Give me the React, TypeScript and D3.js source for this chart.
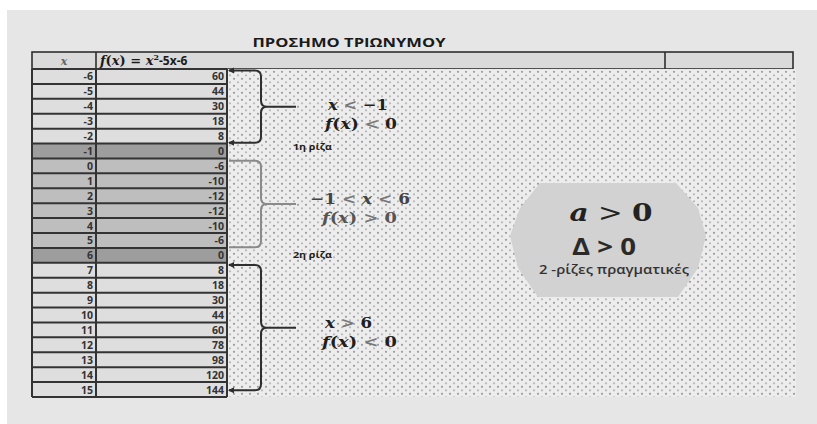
import React from 'react';
import * as d3 from 'd3';

// table data
const xVals = [-6, -5, -4, -3, -2, -1, 0, 1, 2, 3, 4, 5, 6, 7, 8, 9, 10, 11, 12, 13, 14, 15];
const fVals = [60, 44, 30, 18, 8, 0, -6, -10, -12, -12, -10, -6, 0, 8, 18, 30, 44, 60, 78, 98, 120, 144];
const roots = [-1, 6];
const title = 'ΠΡΟΣΗΜΟ ΤΡΙΩΝΥΜΟΥ';
const rootLabels = ['1η ρίζα', '2η ρίζα'];
const summary = ['a > 0', 'Δ > 0', '2 -ρίζες πραγματικές'];

const W = 817;
const H = 424;
const colX = [32, 96, 227];
const tableTop = 69;
const tableBottom = 397;
const dotsRight = 796;

const yScale = d3.scaleBand<number>().domain(xVals).range([tableTop, tableBottom]);
const bw = yScale.bandwidth();

const rowFill = (x: number) => {
  if (roots.includes(x)) return '#9d9d9d';
  if (x > roots[0] && x < roots[1]) return '#bebebe';
  return '#dedede';
};

// brace: from row a to row b
const braces = [
  { from: -6, to: -2, top: 0.1, bot: 0.95, color: '#2e2e2e', arrows: true },
  { from: 0, to: 5, top: 0.15, bot: 0.95, color: '#8a8a8a', arrows: false },
  { from: 7, to: 15, top: 0.15, bot: 0.55, color: '#2e2e2e', arrows: true },
];

const bracePath = (top: number, bot: number) => {
  const x0 = 229, xv = 261, tip = 296, r = 6;
  const mid = (top + bot) / 2;
  const p = d3.path();
  p.moveTo(x0, top);
  p.lineTo(xv - r, top);
  p.quadraticCurveTo(xv, top, xv, top + r);
  p.lineTo(xv, mid - r);
  p.quadraticCurveTo(xv, mid, xv + r, mid);
  p.lineTo(tip, mid);
  p.moveTo(xv + r, mid);
  p.quadraticCurveTo(xv, mid, xv, mid + r);
  p.lineTo(xv, bot - r);
  p.quadraticCurveTo(xv, bot, xv - r, bot);
  p.lineTo(x0, bot);
  return p.toString();
};

const serif = '"DejaVu Serif", serif';
const sans = '"Open Sans", "Noto Sans", sans-serif';

// "x < -1" style condition text
const Cond = ({ x, y, w, parts, color }: { x: number; y: number; w: number; parts: [string, boolean][]; color: string }) => (
  <text x={x} y={y} fontFamily={serif} fontSize={15} fontWeight="bold" fill={color} textLength={w} lengthAdjust="spacingAndGlyphs">
    {parts.map(([s, it], i) => (
      <tspan key={i} fontStyle={it ? 'italic' : 'normal'} fill={s.trim() === '<' || s.trim() === '>' ? '#777' : color}>
        {s}
      </tspan>
    ))}
  </text>
);

const shape = [
  [-98, -4], [-88, -32], [-68, -57], [68, -57], [90, -32], [98, -4], [90, 28], [70, 57], [-70, 57], [-90, 28],
];

export default function App() {
  const cx = 608, cy = 240;
  return (
    <svg width={W} height={H} style={{ position: 'absolute', left: 0, top: 0 }}>
      <defs>
        <pattern id="dots" width={8} height={7} patternUnits="userSpaceOnUse">
          <rect width={8} height={7} fill="#ededed" />
          <circle cx={2} cy={1.8} r={1.1} fill="#9c9c9c" />
          <circle cx={6} cy={5.3} r={1.1} fill="#b8b8b8" />
        </pattern>
      </defs>
      <rect x={7} y={10} width={W - 7} height={H - 10} fill="#e6e6e6" />

      <text x={349} y={47} textAnchor="middle" fontFamily={sans} fontWeight="bold" fontSize={13} fill="#1a1a1a" textLength={193} lengthAdjust="spacingAndGlyphs">
        {title}
      </text>

      {/* header */}
      <rect x={colX[0]} y={52} width={793 - colX[0]} height={tableTop - 52} fill="#dadada" stroke="#2e2e2e" strokeWidth={1.6} />
      {[colX[1], 665].map((x) => (
        <line key={x} x1={x} x2={x} y1={52} y2={tableTop} stroke="#2e2e2e" strokeWidth={1.6} />
      ))}
      <text x={64} y={65} textAnchor="middle" fontFamily={serif} fontStyle="italic" fontWeight="bold" fontSize={11} fill="#666">x</text>
      <text x={100} y={65} fontFamily={serif} fontWeight="bold" fontSize={13} fill="#1a1a1a">
        <tspan fontStyle="italic">f</tspan>(<tspan fontStyle="italic">x</tspan>) = <tspan fontStyle="italic">x</tspan>
        <tspan dy={-5} fontSize={8}>2</tspan>
        <tspan dy={5} fontFamily={sans} fontSize={12}>-5x-6</tspan>
      </text>

      {/* dotted area */}
      <rect x={colX[2]} y={tableTop} width={dotsRight - colX[2]} height={tableBottom - tableTop} fill="url(#dots)" />

      {/* rows */}
      {xVals.map((x, i) => {
        const y = yScale(x)!;
        return (
          <g key={x}>
            <rect x={colX[0]} y={y} width={colX[2] - colX[0]} height={bw} fill={rowFill(x)} />
            <text x={colX[1] - 3} y={y + bw / 2 + 4} textAnchor="end" fontFamily={sans} fontWeight="bold" fontSize={10.5} fill="#333">{x}</text>
            <text x={colX[2] - 3} y={y + bw / 2 + 4} textAnchor="end" fontFamily={sans} fontWeight="bold" fontSize={10.5} fill="#333">{fVals[i]}</text>
          </g>
        );
      })}
      {xVals.map((x) => (
        <line key={'h' + x} x1={colX[0]} x2={colX[2]} y1={yScale(x)!} y2={yScale(x)!} stroke="#333" strokeWidth={2} />
      ))}
      <line x1={colX[0]} x2={colX[2]} y1={tableBottom} y2={tableBottom} stroke="#333" strokeWidth={2} />
      {colX.map((x) => (
        <line key={'v' + x} x1={x} x2={x} y1={tableTop} y2={tableBottom} stroke="#333" strokeWidth={2} />
      ))}

      {/* braces */}
      {braces.map((b, i) => {
        const top = yScale(b.from)! + bw * b.top;
        const bot = yScale(b.to)! + bw * b.bot;
        return (
          <g key={i}>
            <path d={bracePath(top, bot)} fill="none" stroke={b.color} strokeWidth={2} />
            {b.arrows &&
              [top, bot].map((yy) => (
                <path key={yy} d={`M${228},${yy} l6,-3 l0,6 z`} fill={b.color} />
              ))}
          </g>
        );
      })}

      <Cond x={328} y={110} w={60} color="#1e1e1e" parts={[['x', true], [' < ', false], ['−1', false]]} />
      <Cond x={325} y={129} w={72} color="#1e1e1e" parts={[['f', true], ['(', false], ['x', true], [')', false], [' < ', false], ['0', false]]} />
      <Cond x={310} y={204} w={100} color="#444" parts={[['−1', false], [' < ', false], ['x', true], [' < ', false], ['6', false]]} />
      <Cond x={322} y={223} w={75} color="#555" parts={[['f', true], ['(', false], ['x', true], [')', false], [' > ', false], ['0', false]]} />
      <Cond x={325} y={328} w={47} color="#1e1e1e" parts={[['x', true], [' > ', false], ['6', false]]} />
      <Cond x={322} y={347} w={75} color="#1e1e1e" parts={[['f', true], ['(', false], ['x', true], [')', false], [' < ', false], ['0', false]]} />

      {roots.map((r, i) => (
        <text key={r} x={293} y={yScale(r)! + bw / 2 + (i === 0 ? -1 : 3)} fontFamily={sans} fontWeight="bold" fontSize={8.5} fill="#222" textLength={39} lengthAdjust="spacingAndGlyphs">
          {rootLabels[i]}
        </text>
      ))}

      {/* summary shape */}
      <path d={(d3.line().curve(d3.curveLinearClosed))(shape.map(([dx, dy]) => [cx + dx, cy + dy] as [number, number]))!} fill="#d2d2d2" />
      <text x={cx + 3} y={221} textAnchor="middle" fontFamily={serif} fontSize={24} fill="#222" textLength={83} lengthAdjust="spacingAndGlyphs">
        <tspan fontStyle="italic" fontWeight="bold">a</tspan> &gt; <tspan fontWeight="bold">0</tspan>
      </text>
      <text x={cx - 4} y={255} textAnchor="middle" fontFamily={sans} fontWeight="bold" fontSize={23} fill="#2a2a2a" textLength={64} lengthAdjust="spacingAndGlyphs">{summary[1]}</text>
      <text x={cx + 6} y={274} textAnchor="middle" fontFamily={sans} fontWeight="600" fontSize={12} fill="#333" textLength={150} lengthAdjust="spacingAndGlyphs">{summary[2]}</text>
    </svg>
  );
}
